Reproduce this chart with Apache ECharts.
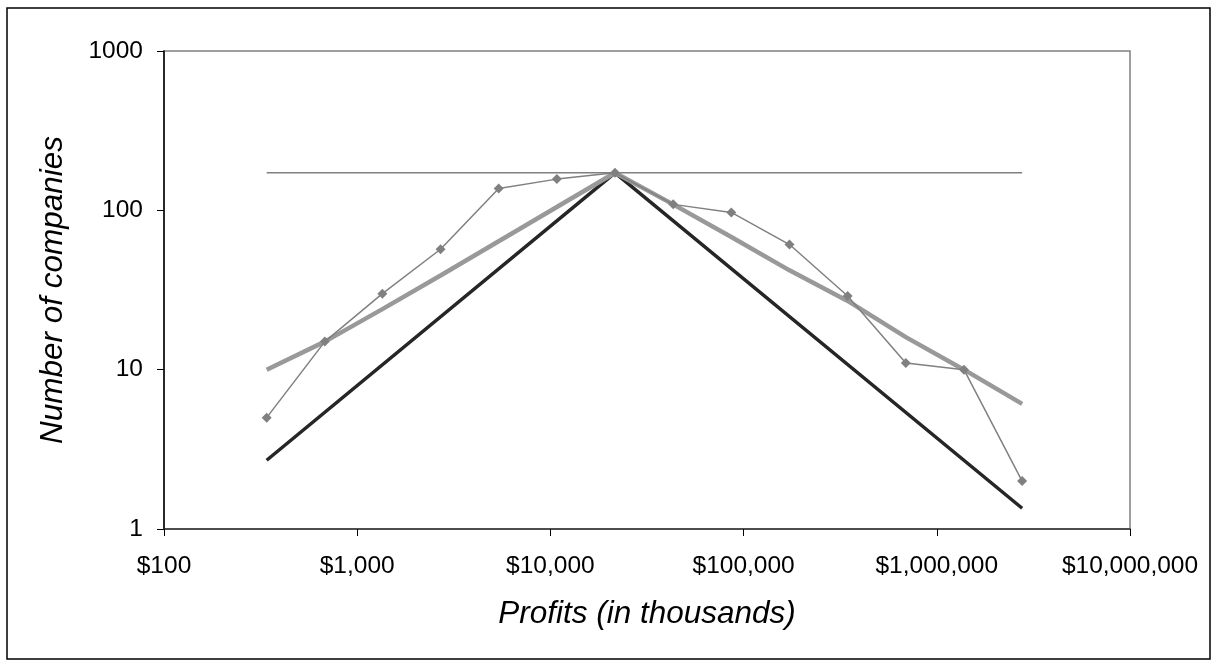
<!DOCTYPE html>
<html>
<head>
<meta charset="utf-8">
<script src="https://cdn.jsdelivr.net/npm/echarts@6/dist/echarts.min.js"></script>
<style>
  html, body { margin: 0; padding: 0; background: #fff; }
  #chart { width: 1217px; height: 666px; }
</style>
</head>
<body>
<div id="chart"></div>
<script>
// Profit bins (in thousands, doubling each step) and company counts per bin
const bins = [340, 680, 1350, 2700, 5400, 10800, 21600, 43200, 86400, 172800, 345600, 691200, 1382400, 2764800];
const companies = [5, 15, 30, 57, 137, 157, 172, 109, 97, 61, 29, 11, 10, 2];

// Smoothed fit through the observed counts
const fitted = [10, 15, 24, 39, 64, 105, 172, 109, 68, 42, 27, 16, 10, 6.1];

// Reference power-law slopes from the peak bin
const powerLawX = [340, 21600, 2764800];
const powerLawY = [2.7, 172, 1.35];

// Peak level guide line
const peakX = [340, 2764800];
const peakY = [172, 172];

// Tick labels
const xTickLabels = ['$100', '$1,000', '$10,000', '$100,000', '$1,000,000', '$10,000,000'];
const yTickLabels = ['1', '10', '100', '1000'];

const zip = (xs, ys) => xs.map((x, i) => [x, ys[i]]);
const FONT = '"Liberation Sans", Arial, sans-serif';

const chart = echarts.init(document.getElementById('chart'), null, { renderer: 'canvas' });

chart.setOption({
  animation: false,
  backgroundColor: '#ffffff',
  graphic: [{
    type: 'rect',
    shape: { x: 7, y: 8, width: 1203, height: 651 },
    style: { fill: 'none', stroke: '#000', lineWidth: 1.5 },
    silent: true
  }],
  grid: {
    left: 164, top: 51, right: 87, bottom: 137,
    show: true, borderColor: '#808080', borderWidth: 1.5, backgroundColor: 'transparent'
  },
  xAxis: {
    type: 'log', logBase: 10, min: 100, max: 10000000,
    name: 'Profits (in thousands)',
    nameLocation: 'middle', nameGap: 69,
    nameTextStyle: { fontFamily: FONT, fontSize: 31.5, fontStyle: 'italic', color: '#000' },
    axisLine: { lineStyle: { color: '#333', width: 1.5 } },
    axisTick: { show: true, length: 7, lineStyle: { color: '#000', width: 1 } },
    axisLabel: {
      margin: 25, fontFamily: FONT, fontSize: 24.5, color: '#000',
      formatter: v => xTickLabels[Math.round(Math.log10(v)) - 2]
    },
    splitLine: { show: false },
    minorTick: { show: false }
  },
  yAxis: {
    type: 'log', logBase: 10, min: 1, max: 1000,
    name: 'Number of companies',
    nameLocation: 'middle', nameGap: 95, nameRotate: 90,
    nameTextStyle: { fontFamily: FONT, fontSize: 31.5, fontStyle: 'italic', color: '#000' },
    axisLine: { show: true, lineStyle: { color: '#000', width: 1.5 } },
    axisTick: { show: true, length: 7, lineStyle: { color: '#000', width: 1 } },
    axisLabel: {
      margin: 21, fontFamily: FONT, fontSize: 24.5, color: '#000',
      formatter: v => yTickLabels[Math.round(Math.log10(v))]
    },
    splitLine: { show: false }
  },
  series: [
    {
      name: 'Power law',
      type: 'line',
      data: zip(powerLawX, powerLawY),
      showSymbol: false,
      lineStyle: { color: '#262626', width: 3.5 },
      z: 2
    },
    {
      name: 'Fit',
      type: 'line',
      data: zip(bins, fitted),
      showSymbol: false,
      lineStyle: { color: '#999999', width: 4.5 },
      z: 3
    },
    {
      name: 'Peak',
      type: 'line',
      data: zip(peakX, peakY),
      showSymbol: false,
      lineStyle: { color: '#808080', width: 1.5 },
      z: 4
    },
    {
      name: 'Companies',
      type: 'line',
      data: zip(bins, companies),
      symbol: 'diamond',
      symbolSize: 10,
      itemStyle: { color: '#808080' },
      lineStyle: { color: '#808080', width: 1.5 },
      z: 5
    }
  ]
});
</script>
</body>
</html>
